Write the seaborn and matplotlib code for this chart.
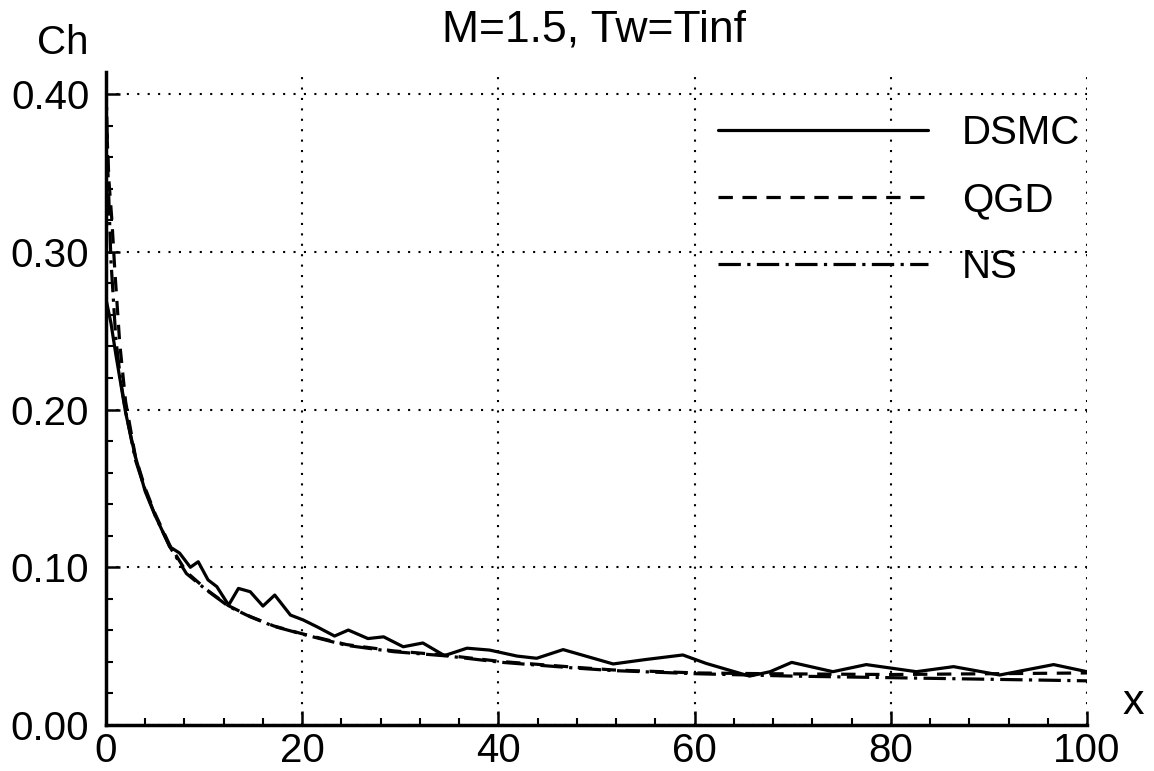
import numpy as np
import pandas as pd
import matplotlib
matplotlib.use("Agg")
import matplotlib.pyplot as plt
import seaborn as sns
from matplotlib.ticker import MultipleLocator, FormatStrFormatter

# ---------------- data ----------------
x_dsmc = [0, 0.5, 1, 2, 3, 4, 5, 6.5, 7.5, 8.6, 9.4, 10.4, 11.3, 12.5, 13.5, 14.7,
          16.0, 17.2, 18.8, 20.1, 21.5, 23.3, 24.7, 26.7, 28.3, 30.3, 32.3, 34.5,
          36.8, 39.1, 41.9, 43.9, 46.6, 51.7, 55.0, 58.8, 61.2, 65.6, 67.7, 69.9,
          74.1, 77.5, 82.6, 86.4, 91.1, 96.6, 100]
ch_dsmc = [0.27, 0.255, 0.235, 0.198, 0.170, 0.148, 0.133, 0.113, 0.109, 0.100,
           0.1035, 0.092, 0.0877, 0.076, 0.0866, 0.0845, 0.0754, 0.0824, 0.0697,
           0.0666, 0.0623, 0.0564, 0.0602, 0.0548, 0.0559, 0.0496, 0.052, 0.0440,
           0.0487, 0.0475, 0.0437, 0.0423, 0.0478, 0.0387, 0.0415, 0.0444, 0.039,
           0.031, 0.0338, 0.0397, 0.0338, 0.0383, 0.0338, 0.037, 0.0317, 0.0383,
           0.0338]

x_qgd = [0.1, 0.3, 0.6, 0.9, 1.4, 2.0, 3.0, 4.0, 5.0, 6.5, 8.2, 10.3, 12.5, 14.7,
         17.1, 19.9, 24.5, 29.3, 34.7, 40.2, 47.6, 51.7, 60.2, 67.7, 80, 90, 100]
ch_qgd = [0.375, 0.345, 0.32, 0.288, 0.242, 0.205, 0.170, 0.150, 0.134, 0.114,
          0.097, 0.0856, 0.0756, 0.0688, 0.0628, 0.058, 0.0510, 0.0470, 0.0442,
          0.0403, 0.0367, 0.0349, 0.0330, 0.0325, 0.0320, 0.0325, 0.0330]

x_ns = [0, 0.2, 0.5, 1.0, 1.5, 2.0, 3.0, 4.0, 5.0, 6.5, 8.2, 10.3, 12.5, 14.7,
        17.1, 19.9, 24.5, 29.3, 34.7, 40.2, 47.6, 51.7, 60.2, 70, 80, 90, 100]
ch_ns = [0.41, 0.35, 0.295, 0.245, 0.218, 0.199, 0.168, 0.149, 0.133, 0.113,
         0.096, 0.0853, 0.0752, 0.0686, 0.0626, 0.0578, 0.0505, 0.0465, 0.0438,
         0.0398, 0.0362, 0.0345, 0.0325, 0.0310, 0.0300, 0.0290, 0.0280]

series_names = ["DSMC", "QGD", "NS"]
x_ticks = [0, 20, 40, 60, 80, 100]
y_ticks = [0.00, 0.10, 0.20, 0.30, 0.40]
title_text = "M=1.5, Tw=Tinf"

df = pd.concat([
    pd.DataFrame({"x": x_dsmc, "Ch": ch_dsmc, "model": "DSMC"}),
    pd.DataFrame({"x": x_qgd, "Ch": ch_qgd, "model": "QGD"}),
    pd.DataFrame({"x": x_ns, "Ch": ch_ns, "model": "NS"}),
], ignore_index=True)

# ---------------- plot ----------------
sns.set_theme(style="white")
plt.rcParams["font.family"] = ["Liberation Sans", "DejaVu Sans"]
plt.rcParams["text.color"] = "black"
plt.rcParams["xtick.color"] = "black"
plt.rcParams["ytick.color"] = "black"

W, H = 1154, 771
fig = plt.figure(figsize=(W / 100, H / 100), dpi=100)
ax = fig.add_axes([106 / W, 1 - 725 / H, (1087 - 106) / W, (725 - 72) / H])

sns.lineplot(data=df, x="x", y="Ch", style="model", style_order=series_names,
             dashes={"DSMC": "", "QGD": (4.5, 3), "NS": (7, 2, 1, 2)},
             color="black", linewidth=2.3, estimator=None, ax=ax)

ax.set_xlim(0, 100)
ax.set_ylim(0, 0.414)
ax.set_xlabel("")
ax.set_ylabel("")

ax.xaxis.set_major_locator(plt.FixedLocator(x_ticks))
ax.yaxis.set_major_locator(plt.FixedLocator(y_ticks))
ax.xaxis.set_minor_locator(MultipleLocator(4))
ax.yaxis.set_minor_locator(MultipleLocator(0.02))
ax.yaxis.set_major_formatter(FormatStrFormatter("%.2f"))

ax.tick_params(which="major", direction="in", length=10, width=1.8,
               color="black", labelsize=29, labelcolor="black")
ax.tick_params(axis="x", which="major", pad=5)
ax.tick_params(axis="y", which="major", pad=12)
ax.tick_params(which="minor", direction="in", length=5, width=1.5, color="black")
ax.tick_params(bottom=True, left=True, top=False, right=False, which="both")

for s in ["top", "right"]:
    ax.spines[s].set_visible(False)
for s in ["left", "bottom"]:
    ax.spines[s].set_color("black")
    ax.spines[s].set_linewidth(2.5)

ax.grid(True, which="major", color="black", linestyle=(0, (1, 4)), linewidth=1.5)
ax.set_axisbelow(True)

handles, labels = ax.get_legend_handles_labels()
leg = ax.legend(handles, labels, loc="upper right", bbox_to_anchor=(0.993, 0.935),
                frameon=False, fontsize=29, handlelength=5.2, handletextpad=0.85,
                labelspacing=0.72, borderaxespad=0, borderpad=0)
for h in leg.get_lines():
    h.set_linewidth(2.3)
    h.set_color("black")

fig.text(594 / W, 1 - 30 / H, title_text, ha="center", va="center", fontsize=32)
fig.text(63 / W, 1 - 43 / H, "Ch", ha="center", va="center", fontsize=29)
fig.text(1133 / W, 1 - 703 / H, "x", ha="center", va="center", fontsize=31)

fig.savefig("out.png", dpi=100, facecolor="white")
